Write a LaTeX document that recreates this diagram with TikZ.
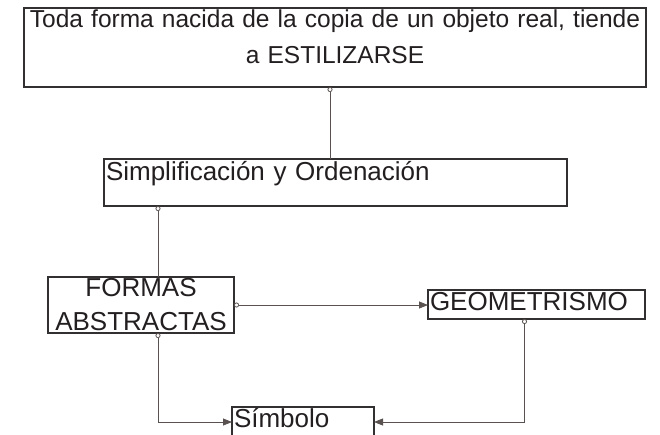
\documentclass[tikz,border=0pt]{standalone}
\usepackage{fontspec}
\setmainfont{Liberation Sans}
\usetikzlibrary{arrows.meta, positioning}
\definecolor{ink}{RGB}{35, 31, 32}
\definecolor{edge}{RGB}{50, 48, 48}
\definecolor{wire}{RGB}{90, 82, 80}

\begin{document}
\begin{tikzpicture}[
  x=1pt, y=-1pt,
  box/.style={rectangle, draw=edge, line width=1.5pt, fill=white,
              inner xsep=2pt, inner ysep=1pt, outer sep=0pt,
              font=\fontsize{26}{34}\selectfont, text=ink},
  link/.style={{Circle[open, length=5pt, width=5pt]}-{Triangle[length=9pt, width=7pt]}, wire, line width=0.8pt},
  tie/.style={{Circle[open, length=5pt, width=5pt]}-, wire, line width=0.8pt}
]
\useasboundingbox (0,0) rectangle (660,434);

\node[box, anchor=north west, text width=618pt, align=center,
      font=\fontsize{24.5}{36}\selectfont,
      text height=18pt, text depth=59pt] (idea) at (24,8)
  {Toda forma nacida de la copia de un objeto real, tiende\\a ESTILIZARSE};
\node[box, anchor=north west, text width=459pt, align=left,
      text height=20pt, text depth=25pt] (simp) at (104,159)
  {Simplificación y Ordenación};
\node[box, anchor=north west, text width=182pt, align=center,
      minimum height=56pt] (formas) at (48,277)
  {FORMAS\\ABSTRACTAS};
\node[box, anchor=north west, text width=213pt, align=left,
      text height=19pt, text depth=8pt] (geom) at (428,290)
  {GEOMETRISMO};
\node[box, anchor=north west, text width=138pt, align=left,
      text height=19pt, text depth=9pt] (simbolo) at (232,407)
  {Símbolo};

\draw[tie] ([xshift=-5pt]idea.south) coordinate (c1) -- (c1 |- simp.north);
\draw[tie] ([xshift=54pt]simp.south west) coordinate (c2) -- (c2 |- formas.north);
\draw[link] (formas.east) -- (formas.east -| geom.west);
\draw[link] (c2 |- formas.south) |- (simbolo.west);
\draw[link] ([xshift=-12pt]geom.south) |- (simbolo.east);
\end{tikzpicture}
\end{document}
